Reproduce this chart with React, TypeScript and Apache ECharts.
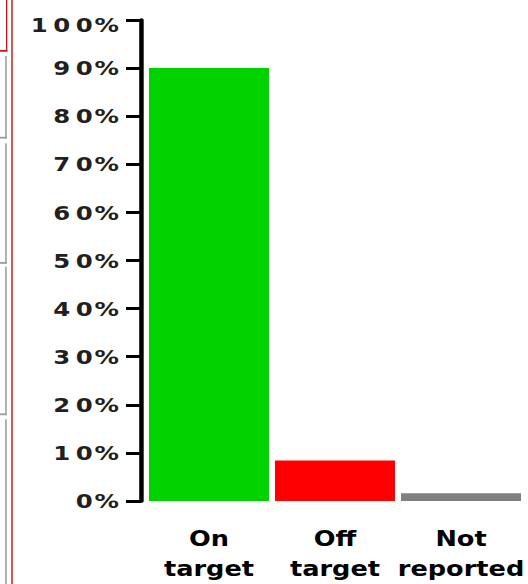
import React, { useEffect, useRef } from "react";
import * as echarts from "echarts";

// ---- data ----
const categories = ["On\ntarget", "Off\ntarget", "Not\nreported"];
const values = [90, 8.4, 1.6];
const barColors = ["#00d200", "#ff0000", "#808080"];
const yMin = 0;
const yMax = 100;
const yStep = 10;
const ySuffix = "%";

// ---- layout (the reference is horizontally stretched) ----
const PAGE_W = 528;
const PAGE_H = 584;
const INNER_W = 433;
const S = PAGE_W / INNER_W;
const u = (x: number) => x / S;

function pageDecor() {
  const red = "#cc1111";
  const gray = "#9a9a9a";
  const r = (x: number, y: number, w: number, h: number, fill: string) => ({
    type: "rect",
    silent: true,
    shape: { x: u(x), y, width: u(w), height: h },
    style: { fill },
  });
  return [
    r(11.3, 0, 1.4, PAGE_H, red),
    r(6, 0, 1.3, 51.5, red),
    r(0, 50, 7.3, 1.7, red),
    r(5.2, 56, 1.5, 82.5, gray),
    r(0, 136.8, 6.7, 1.8, gray),
    r(5.2, 143.3, 1.5, 120.5, gray),
    r(0, 262, 6.7, 1.8, gray),
    r(5.2, 266.7, 1.5, 148.5, gray),
    r(0, 413.4, 6.7, 1.8, gray),
    r(5.2, 419.3, 1.5, 170, gray),
  ];
}

export default function App() {
  const ref = useRef<HTMLDivElement>(null);
  useEffect(() => {
    if (!ref.current) return;
    const chart = echarts.init(ref.current, undefined, { renderer: "svg" });
    const charStyle = {
      width: u(22.5),
      align: "center",
      fontSize: 20,
      fontWeight: "bold",
      fontFamily: "DejaVu Sans",
      color: "#231f20",
    };
    chart.setOption({
      animation: false,
      backgroundColor: "#ffffff",
      graphic: pageDecor(),
      grid: {
        left: u(146),
        right: INNER_W - u(146) - u(126) * 3,
        top: 20,
        bottom: PAGE_H - 502.7,
        containLabel: false,
      },
      xAxis: {
        type: "category",
        data: categories,
        axisLine: { show: false },
        axisTick: { show: false },
        axisLabel: {
          interval: 0,
          margin: 23,
          fontSize: 21,
          lineHeight: 30,
          fontWeight: "bold",
          fontFamily: "DejaVu Sans",
          color: "#000000",
        },
      },
      yAxis: {
        type: "value",
        min: yMin,
        max: yMax,
        interval: yStep,
        offset: u(5),
        splitLine: { show: false },
        axisLine: { show: true, lineStyle: { color: "#000000", width: u(4.5) } },
        axisTick: { show: true, length: u(15), lineStyle: { color: "#000000", width: 3 } },
        axisLabel: {
          margin: u(23),
          formatter: (v: number) => {
            const s = `${v}${ySuffix}`;
            const key = v === yMax ? "m" : "c";
            return s
              .split("")
              .map((ch) => `{${key}|${ch}}`)
              .join("");
          },
          rich: {
            c: charStyle,
            m: { ...charStyle, padding: [10, 0, 0, 0] },
          },
        },
      },
      series: [
        {
          type: "bar",
          barWidth: u(120),
          data: values.map((v, i) => ({ value: v, itemStyle: { color: barColors[i] } })),
        },
      ],
    });
    return () => chart.dispose();
  }, []);
  return (
    <div
      style={{
        position: "fixed",
        left: 0,
        top: 0,
        width: PAGE_W,
        height: PAGE_H,
        overflow: "hidden",
        background: "#fff",
      }}
    >
      <div
        ref={ref}
        style={{
          width: INNER_W,
          height: PAGE_H,
          transform: `scaleX(${S})`,
          transformOrigin: "0 0",
        }}
      />
    </div>
  );
}
